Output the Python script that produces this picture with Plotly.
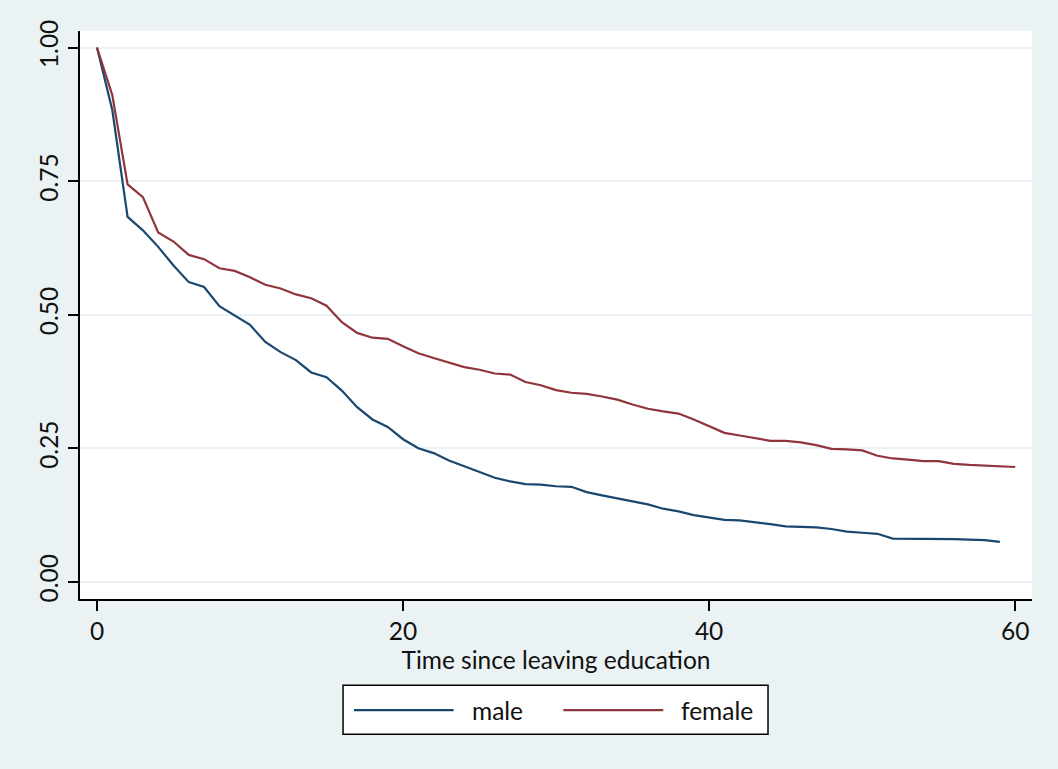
import plotly.graph_objects as go

# Kaplan-Meier style survivor estimates by sex
time_male = list(range(0, 60))
surv_male = [1.000, 0.883, 0.683, 0.658, 0.627, 0.592, 0.561, 0.552, 0.516, 0.499,
             0.481, 0.449, 0.430, 0.415, 0.392, 0.383, 0.358, 0.327, 0.304, 0.290,
             0.267, 0.250, 0.241, 0.227, 0.216, 0.206, 0.195, 0.188, 0.183, 0.182,
             0.179, 0.178, 0.168, 0.162, 0.156, 0.151, 0.145, 0.137, 0.132, 0.125,
             0.121, 0.116, 0.115, 0.112, 0.108, 0.104, 0.103, 0.102, 0.099, 0.094,
             0.092, 0.090, 0.081, 0.081, 0.081, 0.080, 0.080, 0.079, 0.078, 0.075]

time_female = list(range(0, 61))
surv_female = [1.000, 0.911, 0.744, 0.720, 0.654, 0.637, 0.612, 0.604, 0.587, 0.582,
               0.570, 0.556, 0.549, 0.538, 0.531, 0.517, 0.486, 0.466, 0.457, 0.455,
               0.441, 0.428, 0.419, 0.410, 0.402, 0.397, 0.390, 0.388, 0.374, 0.368,
               0.359, 0.354, 0.352, 0.347, 0.341, 0.332, 0.324, 0.319, 0.315, 0.304,
               0.291, 0.279, 0.274, 0.269, 0.264, 0.264, 0.261, 0.256, 0.249, 0.248,
               0.246, 0.236, 0.231, 0.229, 0.226, 0.226, 0.221, 0.219, 0.218, 0.216,
               0.215]

x_ticks = [0, 20, 40, 60]
y_ticks = [0.00, 0.25, 0.50, 0.75, 1.00]
y_tick_text = ["0.00", "0.25", "0.50", "0.75", "1.00"]
series_names = ["male", "female"]

BG = "#EAF2F3"
NAVY = "#1A476F"
MAROON = "#90353B"
FONT = "Lato"
FS = 24.5

fig = go.Figure()
fig.add_trace(go.Scatter(x=time_male, y=surv_male, mode="lines", name=series_names[0],
                         line=dict(color=NAVY, width=2.2), showlegend=False))
fig.add_trace(go.Scatter(x=time_female, y=surv_female, mode="lines", name=series_names[1],
                         line=dict(color=MAROON, width=2.2), showlegend=False))

# Boxed legend below the axis title, with long line keys
fig.add_shape(type="rect", xref="paper", yref="paper",
              x0=0.2763, x1=0.7227, y0=-0.2382, y1=-0.1519,
              fillcolor="white", line=dict(color="black", width=1.5), layer="above")
legend_y = -0.1955
for (lx0, lx1, tx), name, col in zip([(0.2878, 0.3924, 0.4097), (0.5077, 0.6127, 0.6292)],
                                      series_names, [NAVY, MAROON]):
    fig.add_shape(type="line", xref="paper", yref="paper",
                  x0=lx0, x1=lx1, y0=legend_y, y1=legend_y,
                  line=dict(color=col, width=2.2), layer="above")
    fig.add_annotation(text=name, xref="paper", yref="paper", x=tx, y=legend_y,
                       xanchor="left", yanchor="middle", showarrow=False,
                       font=dict(family=FONT, size=FS, color="#111111"))

fig.update_layout(
    width=1058, height=769,
    paper_bgcolor=BG, plot_bgcolor="white",
    margin=dict(l=80, r=26, t=31, b=170),
    font=dict(family=FONT, size=FS, color="#111111"),
    showlegend=False,
    xaxis=dict(
        range=[-1.11, 61.1], tickvals=x_ticks, ticks="outside", ticklen=10,
        tickwidth=1.5, tickcolor="black", showline=True, linecolor="black",
        linewidth=1.5, showgrid=False, zeroline=False,
        title=dict(text="Time since leaving education", standoff=2,
                   font=dict(family=FONT, size=FS)),
        tickfont=dict(family=FONT, size=FS),
    ),
    yaxis=dict(
        range=[-0.032, 1.031], tickvals=y_ticks, ticktext=y_tick_text,
        ticks="outside", ticklen=10, tickwidth=1.5, tickcolor="black",
        showline=True, linecolor="black", linewidth=1.5,
        showgrid=True, gridcolor=BG, gridwidth=2, zeroline=False,
        tickangle=-90, tickfont=dict(family=FONT, size=FS),
    ),
)

fig.write_html("out.html")
